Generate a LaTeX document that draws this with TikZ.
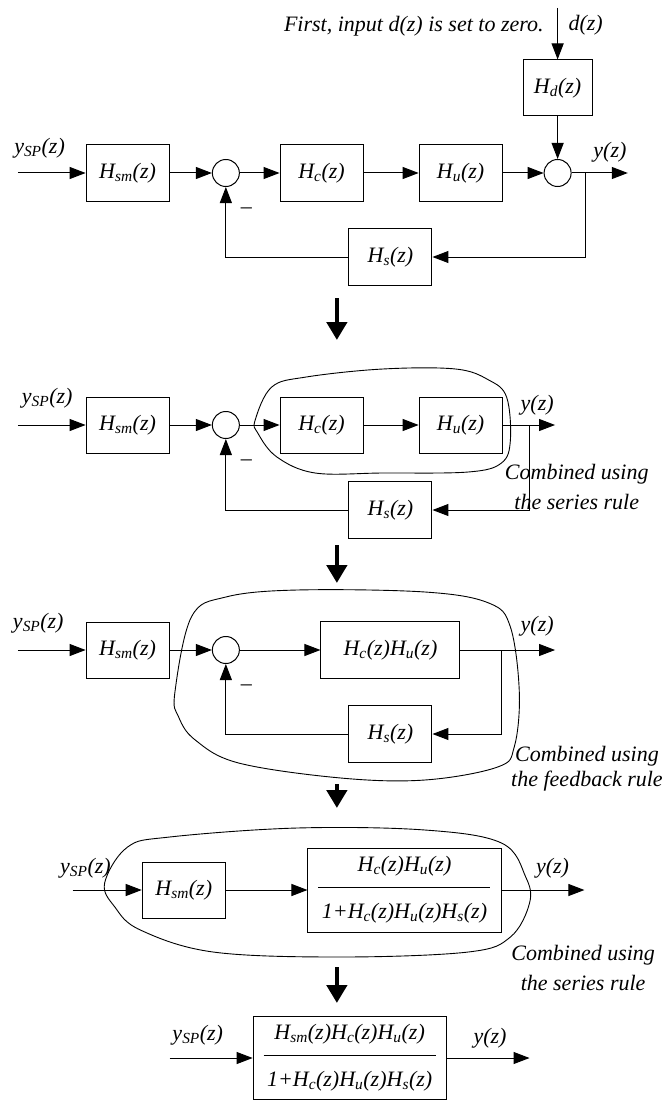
\documentclass[tikz,border=0pt]{standalone}
\usepackage{fontspec}
\setmainfont{Liberation Serif}
\usetikzlibrary{arrows.meta, positioning, shapes.geometric}
\newcommand{\sbs}[1]{\textsubscript{#1}}
\tikzset{
  blockdiag/.style={
	->, % every connector is directed
	>={Triangle[length=16pt,width=12pt]}, % filled arrow heads
	line width=1pt,
	x=1.276pt, y=-1pt, % x units are stretched, y runs downwards
	every node/.style={font=\fontsize{22}{26}\selectfont\itshape},
  },
  block/.style={draw, rectangle, minimum width=83pt, minimum height=56pt, inner sep=0pt}, % transfer function box
  sum/.style={draw, circle, minimum size=27pt, inner sep=0pt}, % summing junction
  bigarrow/.style={line width=4.5pt, -{Triangle[length=18pt,width=20pt]}}, % step to step
  note/.style={align=center, font=\fontsize{22}{30}\selectfont\itshape},
  blob/.style={draw, -, line width=0.9pt},
}
\begin{document}
\begin{tikzpicture}[blockdiag]
	  \useasboundingbox (0,0) rectangle (522.7,1102);

	  % full loop
	  \coordinate (inA) at (14,173);
	  \node[block] (hsmA) at (100,173) {H\sbs{sm}(z)};
	  \node[sum] (sumA) at (177,173) {};
	  \node[block] (hcA) at (252,173) {H\sbs{c}(z)};
	  \node[block] (huA) at (361,173) {H\sbs{u}(z)};
	  \node[sum] (sumB) at (437,173) {};
	  \node[block, minimum width=69pt] (hdA) at (437,88) {H\sbs{d}(z)};
	  \node[block, minimum height=57pt] (hsA) at (306,257) {H\sbs{s}(z)};
	  \coordinate (dinA) at (437,8);
	  \coordinate (brA) at (459,173);
	  \coordinate (outA) at (492,173);
	  \node (ysA) at (31,148) {y\sbs{SP}(z)};
	  \node (yA) at (478,152) {y(z)};
	  \node (dA) at (459,25) {d(z)};
	  \node[anchor=east] (firstA) at (429,26) {First, input d(z) is set to zero.};
	  \node[font=\upshape\fontsize{22}{26}\selectfont] (minA) at (193,211) {--};

	  \draw (inA) -- (hsmA);
	  \draw (hsmA) -- (sumA);
	  \draw (sumA) -- (hcA);
	  \draw (hcA) -- (huA);
	  \draw (huA) -- (sumB);
	  \draw (sumB) -- (outA);
	  \draw (dinA) -- (hdA);
	  \draw (hdA) -- (sumB);
	  \draw (brA) |- (hsA);
	  \draw (hsA) -| (sumA);

	  \draw[bigarrow] (264,298) -- (264,340);

	  % series rule
	  \coordinate (inB) at (14,425);
	  \node[block] (hsmB) at (100,425) {H\sbs{sm}(z)};
	  \node[sum] (sumC) at (177,425) {};
	  \node[block] (hcB) at (252,425) {H\sbs{c}(z)};
	  \node[block] (huB) at (361,425) {H\sbs{u}(z)};
	  \node[block, minimum height=57pt] (hsB) at (306,510) {H\sbs{s}(z)};
	  \coordinate (brB) at (415,425);
	  \coordinate (outB) at (435,425);
	  \node (ysB) at (37,398) {y\sbs{SP}(z)};
	  \node (yB) at (421,405) {y(z)};
	  \node[font=\upshape\fontsize{22}{26}\selectfont] (minB) at (193,463) {--};
	  \node[note] (noteB) at (452,487) {Combined using\\the series rule};

	  \draw (inB) -- (hsmB);
	  \draw (hsmB) -- (sumC);
	  \draw (sumC) -- (hcB);
	  \draw (hcB) -- (huB);
	  \draw (huB) -- (outB);
	  \draw (brB) |- (hsB);
	  \draw (hsB) -| (sumC);
	  \draw[blob] plot[smooth cycle, tension=0.6] coordinates {(200,420) (213,387) (240,377) (300,369) (357,369) (383,380) (397,397) (400,440) (393,463) (367,472) (300,473) (247,473) (217,457) (202,433)};

	  \draw[bigarrow] (264,545) -- (264,583);

	  % feedback rule
	  \coordinate (inC) at (14,650);
	  \node[block] (hsmC) at (100,650) {H\sbs{sm}(z)};
	  \node[sum] (sumD) at (177,650) {};
	  \node[block, minimum width=139pt, minimum height=57pt] (hchuC) at (306,650) {H\sbs{c}(z)H\sbs{u}(z)};
	  \node[block, minimum height=57pt] (hsC) at (306,734) {H\sbs{s}(z)};
	  \coordinate (brC) at (393,650);
	  \coordinate (outC) at (435,650);
	  \node (ysC) at (30,623) {y\sbs{SP}(z)};
	  \node (yC) at (421,626) {y(z)};
	  \node[font=\upshape\fontsize{22}{26}\selectfont] (minC) at (193,688) {--};
	  \node[note, font=\fontsize{22}{25}\selectfont\itshape] (noteC) at (460,769) {Combined using\\the feedback rule};

	  \draw (inC) -- (hsmC);
	  \draw (hsmC) -- (sumD);
	  \draw (sumD) -- (hchuC);
	  \draw (hchuC) -- (outC);
	  \draw (brC) |- (hsC);
	  \draw (hsC) -| (sumD);
	  \draw[blob] plot[smooth cycle, tension=0.6] coordinates {(137,693) (150,617) (177,597) (233,590) (333,592) (383,603) (400,627) (407,693) (403,747) (390,767) (333,780) (267,778) (187,763) (153,740) (140,717)};

	  \draw[bigarrow] (264,784) -- (264,808);

	  % series rule again
	  \coordinate (inD) at (57,890);
	  \node[block] (hsmD) at (144,890) {H\sbs{sm}(z)};
	  \node[block, align=center, minimum width=193pt, minimum height=84pt] (fracD) at (317,890)
		{H\sbs{c}(z)H\sbs{u}(z)\\[-9.5pt]\rule{172pt}{0.9pt}\\[4.5pt]1+H\sbs{c}(z)H\sbs{u}(z)H\sbs{s}(z)};
	  \coordinate (outD) at (458,890);
	  \node (ysD) at (67,868) {y\sbs{SP}(z)};
	  \node (yD) at (433,868) {y(z)};
	  \node[note] (noteD) at (457,968) {Combined using\\the series rule};

	  \draw (inD) -- (hsmD);
	  \draw (hsmD) -- (fracD);
	  \draw (fracD) -- (outD);
	  \draw[blob] plot[smooth cycle, tension=0.6] coordinates {(82,883) (100,847) (133,837) (233,828) (333,830) (393,843) (412,877) (415,903) (400,937) (367,952) (267,957) (167,952) (110,930) (90,907)};

	  \draw[bigarrow] (264,967) -- (264,1003);

	  % closed loop result
	  \coordinate (inE) at (133,1058);
	  \node[block, align=center, minimum width=193pt, minimum height=83pt] (fracE) at (274,1058)
		{H\sbs{sm}(z)H\sbs{c}(z)H\sbs{u}(z)\\[-9.5pt]\rule{172pt}{0.9pt}\\[4.5pt]1+H\sbs{c}(z)H\sbs{u}(z)H\sbs{s}(z)};
	  \coordinate (outE) at (415,1058);
	  \node (ysE) at (155,1035) {y\sbs{SP}(z)};
	  \node (yE) at (384,1038) {y(z)};

	  \draw (inE) -- (fracE);
	  \draw (fracE) -- (outE);
\end{tikzpicture}
\end{document}
